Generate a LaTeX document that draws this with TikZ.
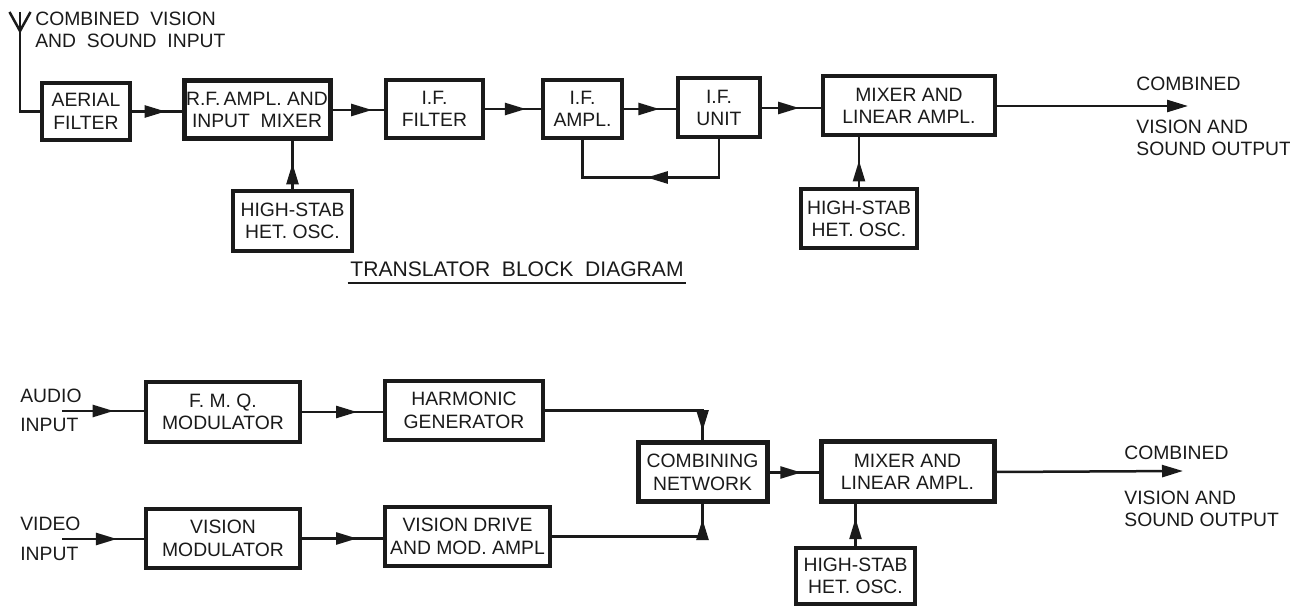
\documentclass[tikz,border=0pt]{standalone}
\usepackage{xcolor}
\usepackage{fontspec}
\setmainfont{Liberation Sans}
\usetikzlibrary{arrows.meta, positioning, calc, decorations.markings}

\definecolor{inkcol}{HTML}{1A1A1A}

\tikzset{
  blockbox/.style={draw=inkcol, line width=0.08cm, inner sep=0pt, align=center, text=inkcol, font=\fontsize{11}{12.8}\selectfont},
  heavybox/.style={blockbox, line width=0.1cm},
  labeltext/.style={inner sep=0pt, anchor=west, align=left, text=inkcol, font=\fontsize{11}{12.5}\selectfont},
  wire/.style={draw=inkcol, line width=0.05cm},
  midarrow/.style={wire, postaction={decorate}, decoration={markings, mark=at position #1 with {\arrow{Stealth[length=0.42cm, width=0.24cm, inset=0pt]}}}},
  endarrow/.style={wire, -{Stealth[length=0.42cm, width=0.24cm, inset=0pt]}}
}

\begin{document}
\begin{tikzpicture}[x=1cm, y=1cm]

\useasboundingbox (0,0) rectangle (25.8,12.12);

% Translator chain

\node[blockbox, minimum width=1.76cm, minimum height=1.14cm]
(aerial)  at (1.72,9.89)  {AERIAL\\FILTER};
\node[heavybox, minimum width=2.92cm, minimum height=1.16cm]
(rfamp)   at (5.14,9.92)  {R.F.\,AMPL.\ AND\\INPUT\ \ MIXER};
\node[blockbox, minimum width=1.94cm, minimum height=1.16cm]
(iffilter) at (8.69,9.94) {I.F.\\FILTER};
\node[blockbox, minimum width=1.58cm, minimum height=1.16cm]
(ifampl)  at (11.65,9.94) {I.F.\\AMPL.};
\node[blockbox, minimum width=1.64cm, minimum height=1.18cm]
(ifunit)  at (14.38,9.96) {I.F.\\UNIT};
\node[blockbox, minimum width=3.44cm, minimum height=1.18cm]
(mixa)    at (18.18,10.0) {MIXER AND\\LINEAR AMPL.};
\node[blockbox, minimum width=2.38cm, minimum height=1.2cm]
(heta)    at (5.85,7.70)  {HIGH-STAB\\HET. OSC.};
\node[blockbox, minimum width=2.32cm, minimum height=1.18cm]
(hetb)    at (17.18,7.74) {HIGH-STAB\\HET. OSC.};

% Modulator chain

\node[blockbox, minimum width=3.08cm, minimum height=1.2cm]
(fmq)     at (4.46,3.88)  {F. M. Q.\\MODULATOR};
\node[blockbox, minimum width=3.16cm, minimum height=1.18cm]
(harm)    at (9.28,3.91)  {HARMONIC\\GENERATOR};
\node[blockbox, minimum width=3.08cm, minimum height=1.18cm]
(vismod)  at (4.46,1.35)  {VISION\\MODULATOR};
\node[blockbox, minimum width=3.3cm, minimum height=1.18cm]
(visdrive) at (9.35,1.39) {VISION DRIVE\\AND MOD. AMPL};
\node[heavybox, minimum width=2.58cm, minimum height=1.18cm]
(comb)    at (14.05,2.67) {COMBINING\\NETWORK};
\node[heavybox, minimum width=3.46cm, minimum height=1.2cm]
(mixb)    at (18.15,2.68) {MIXER AND\\LINEAR AMPL.};
\node[blockbox, minimum width=2.38cm, minimum height=1.12cm]
(hetc)    at (17.11,0.60) {HIGH-STAB\\HET. OSC.};

% Labels

\node[labeltext] (inlabel) at (0.7,11.52) {COMBINED\ \ VISION\\AND\ \ SOUND\ \ INPUT};
\node[labeltext] (outa) at (22.72,10.44) {COMBINED};
\node[labeltext] (outb) at (22.72,9.36) {VISION AND\\SOUND OUTPUT};
\node[labeltext] (outc) at (22.48,3.06) {COMBINED};
\node[labeltext] (outd) at (22.48,1.95) {VISION AND\\SOUND OUTPUT};
\node[labeltext] (audio) at (0.4,4.2)  {AUDIO};
\node[labeltext] (audioin) at (0.4,3.62) {INPUT};
\node[labeltext] (video) at (0.4,1.64) {VIDEO};
\node[labeltext] (videoin) at (0.4,1.04) {INPUT};

\node[inner sep=0pt, minimum width=6.76cm, minimum height=0.56cm, text=inkcol, font=\fontsize{12}{14}\selectfont]
(title) at (10.34,6.74) {TRANSLATOR\ \ BLOCK\ \ DIAGRAM};
\draw[wire, line width=0.035cm] (title.south west) -- (title.south east);

% Aerial

\coordinate (anttop) at (0.40,11.88);
\draw[wire] (0.19,11.88) -- (0.40,11.50) -- (0.61,11.88);
\draw[wire] (anttop) |- (aerial.west);

% Translator connectors

\draw[midarrow=0.68] (aerial.east) -- (aerial.east -| rfamp.west);
\draw[midarrow=0.77] (rfamp.east) -- (rfamp.east -| iffilter.west);
\draw[midarrow=0.73] (iffilter.east) -- (iffilter.east -| ifampl.west);
\draw[midarrow=0.68] (ifampl.east) -- (ifampl.east -| ifunit.west);
\draw[midarrow=0.63] (ifunit.east) -- (ifunit.east -| mixa.west);
\draw[midarrow=0.52] (ifunit.south) -- ++(0,-0.76) -| (ifampl.south);
\draw[midarrow=0.54] (heta.north) -- (heta.north |- rfamp.south);
\draw[midarrow=0.54] (hetb.north) -- (hetb.north |- mixa.south);

\coordinate (outaend) at (23.76,10.0);
\draw[endarrow] (mixa.east) -- (outaend);

% Modulator connectors

\coordinate (audiostart) at (1.24,3.9);
\coordinate (videostart) at (1.24,1.34);
\draw[midarrow=0.63] (audiostart) -- (audiostart -| fmq.west);
\draw[midarrow=0.67] (videostart) -- (videostart -| vismod.west);
\draw[midarrow=0.68] (fmq.east) -- (fmq.east -| harm.west);
\draw[midarrow=0.68] (vismod.east) -- (vismod.east -| visdrive.west);
\draw[midarrow=0.95] (harm.east) -| (comb.north);
\draw[midarrow=0.92] (visdrive.east) -| (comb.south);
\draw[midarrow=0.65] (comb.east) -- (comb.east -| mixb.west);
\draw[midarrow=0.67] (hetc.north) -- (hetc.north |- mixb.south);

\coordinate (outbend) at (23.66,2.70);
\draw[endarrow] (mixb.east) -- (outbend);

\end{tikzpicture}
\end{document}
